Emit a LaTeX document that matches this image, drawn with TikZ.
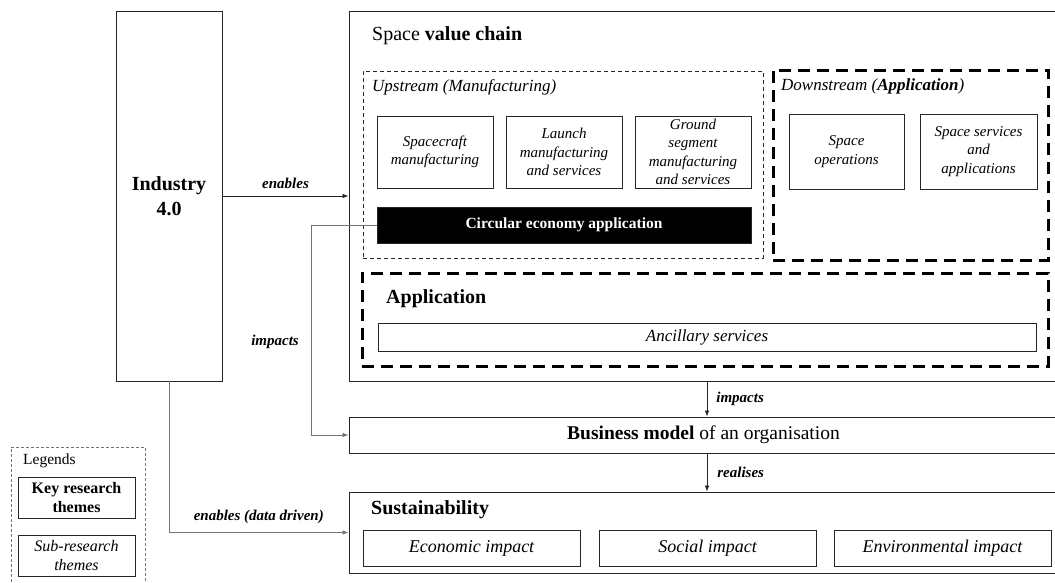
\documentclass[tikz,border=0pt]{standalone}
\usepackage{fontspec}
\setmainfont{Liberation Serif}
\usetikzlibrary{arrows.meta}
\begin{document}
\begin{tikzpicture}[x=1pt,y=-1pt,
  box/.style={draw=black!85, line width=0.9pt, inner sep=0pt, align=center},
  sub/.style={box, font=\itshape\fontsize{15}{18.5}\selectfont},
  bigsub/.style={box, font=\itshape\fontsize{18}{21}\selectfont},
  heavydash/.style={draw=black, line width=3pt, dash pattern=on 12pt off 7pt, inner sep=0pt},
  thindash/.style={draw=black!85, line width=0.8pt, dash pattern=on 4pt off 3pt, inner sep=0pt},
  title/.style={anchor=west, inner sep=0pt, font=\fontsize{20}{24}\selectfont},
  lbl/.style={font=\bfseries\itshape\fontsize{15}{17}\selectfont, inner sep=0pt},
  arr/.style={-{Latex[length=6pt,width=4.5pt]}, line width=0.7pt, draw=black!85},
  garr/.style={-{Latex[length=6pt,width=4.5pt]}, line width=0.7pt, draw=black!55}
]
\useasboundingbox (0,0) rectangle (1055,582);

% Industry 4.0
\node[box, minimum width=106pt, minimum height=370pt, font=\bfseries\fontsize{20}{25}\selectfont] (ind) at (169,196) {Industry\\4.0};

% Space value chain container
\node[box, minimum width=709pt, minimum height=370pt] (svc) at (703.5,196) {};
\node[title] (svct) at (372,36) {Space \textbf{value chain}};

% Upstream
\node[thindash, minimum width=400pt, minimum height=187pt] (up) at (563,164.5) {};
\node[anchor=west, inner sep=0pt, font=\itshape\fontsize{17}{20}\selectfont] (upt) at (372,87) {Upstream (Manufacturing)};
\node[sub, minimum width=116pt, minimum height=72pt] (sc) at (435,152) {Spacecraft\\manufacturing};
\node[sub, minimum width=116pt, minimum height=72pt] (la) at (564,152) {Launch\\manufacturing\\and services};
\node[sub, minimum width=116pt, minimum height=72pt] (gs) at (693,152) {Ground\\segment\\manufacturing\\and services};
\node[box, fill=black, text=white, minimum width=374pt, minimum height=36pt, font=\bfseries\fontsize{15.5}{18}\selectfont] (ce) at (564,225) {Circular economy application};

% Downstream
\node[heavydash, minimum width=275pt, minimum height=190pt] (down) at (910.5,165) {};
\node[anchor=west, inner sep=0pt, font=\itshape\fontsize{17}{20}\selectfont] (downt) at (781,86) {Downstream (\textbf{Application})};
\node[sub, minimum width=115pt, minimum height=75pt] (so) at (846.5,151.5) {Space\\operations};
\node[sub, minimum width=117pt, minimum height=75pt] (ss) at (978.5,151.5) {Space services\\and\\applications};

% Application
\node[heavydash, minimum width=686pt, minimum height=93pt] (app) at (705,319.5) {};
\node[title, font=\bfseries\fontsize{20}{24}\selectfont] (appt) at (386,299) {Application};
\node[box, minimum width=658pt, minimum height=28pt, font=\itshape\fontsize{17}{20}\selectfont] (anc) at (707,337) {Ancillary services};

% Business model
\node[box, minimum width=709pt, minimum height=36pt, font=\fontsize{19.5}{23}\selectfont] (bm) at (703.5,435) {\textbf{Business model} of an organisation};

% Sustainability
\node[box, minimum width=709pt, minimum height=81pt] (sus) at (703.5,532.5) {};
\node[title, font=\bfseries\fontsize{20}{24}\selectfont] (sust) at (371,510) {Sustainability};
\node[bigsub, minimum width=217pt, minimum height=36pt] (eco) at (471.5,548) {Economic impact};
\node[bigsub, minimum width=217pt, minimum height=36pt] (soc) at (707.5,548) {Social impact};
\node[bigsub, minimum width=217pt, minimum height=36pt] (env) at (942.5,548) {Environmental impact};

% Legend
\node[draw=black!55, line width=0.6pt, dash pattern=on 3pt off 2pt, inner sep=0pt, minimum width=134pt, minimum height=145pt] (leg) at (78,519.5) {};
\node[anchor=west, inner sep=0pt, font=\fontsize{15.5}{18}\selectfont] (legt) at (23,461) {Legends};
\node[box, minimum width=117pt, minimum height=41pt, font=\bfseries\fontsize{16}{18.5}\selectfont] (lkey) at (76.5,497.5) {Key research\\themes};
\node[box, minimum width=117pt, minimum height=41pt, font=\itshape\fontsize{16}{18.5}\selectfont] (lsub) at (76.5,555.5) {Sub-research\\themes};

% Connectors
\coordinate (bend1) at (311,225);
\draw[arr] (ind.east) -- node[lbl, above=7pt] {enables} (ind.east -| svc.west);
\draw[garr] (ce.west) -- (bend1) |- (bm.west);
\node[lbl] (impl) at (275,342) {impacts};
\draw[garr] (ind.south) |- node[lbl, pos=0.75, above=8pt] {enables (data driven)} (sus.west);
\draw[arr] (svc.south -| anc.center) -- node[lbl, right=9pt] {impacts} (bm.north -| anc.center);
\draw[arr] (bm.south -| anc.center) -- node[lbl, right=10pt] {realises} (sus.north -| anc.center);
\end{tikzpicture}
\end{document}
